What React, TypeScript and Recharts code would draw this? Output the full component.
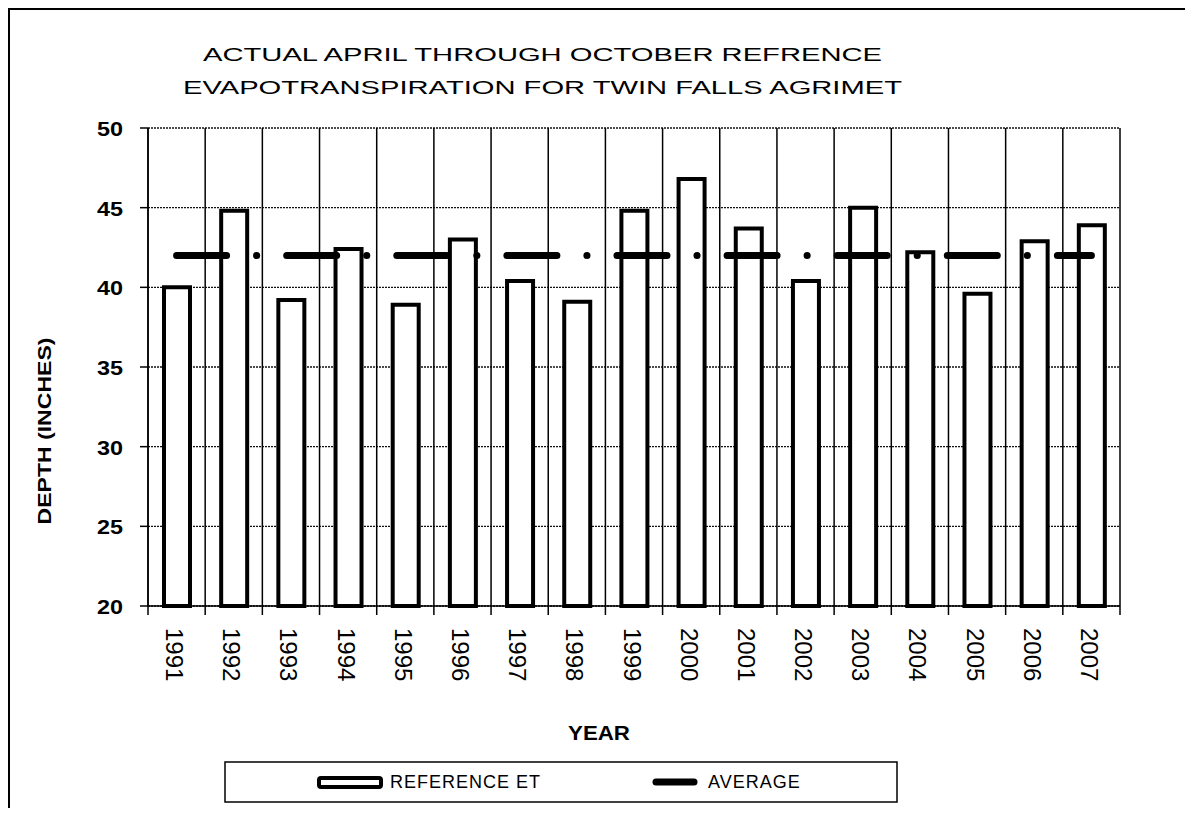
import React from 'react';
import { ComposedChart, Bar, Line, XAxis, YAxis, CartesianGrid } from 'recharts';

const years = ['1991', '1992', '1993', '1994', '1995', '1996', '1997', '1998', '1999', '2000', '2001', '2002', '2003', '2004', '2005', '2006', '2007'];
const referenceEt = [40.0, 44.8, 39.2, 42.4, 38.9, 43.0, 40.4, 39.1, 44.8, 46.8, 43.7, 40.4, 45.0, 42.2, 39.6, 42.9, 43.9];
const average = [42, 42, 42, 42, 42, 42, 42, 42, 42, 42, 42, 42, 42, 42, 42, 42, 42];
const yTicks = [20, 25, 30, 35, 40, 45, 50];
const titleLines = ['ACTUAL APRIL THROUGH OCTOBER REFRENCE', 'EVAPOTRANSPIRATION FOR TWIN FALLS AGRIMET'];
const seriesNames = ['REFERENCE ET', 'AVERAGE'];
const xLabel = 'YEAR';
const yLabel = 'DEPTH (INCHES)';

const data = years.map((y, i) => ({ year: y, et: referenceEt[i], avg: average[i] }));

const FONT = '"Liberation Sans", Arial, sans-serif';
const W = 1177;
const H = 800;

const XTick = (props: any) => {
  const { x, y, payload, index, visibleTicksCount, width } = props;
  const half = payload && typeof payload.offset === 'number' && payload.offset > 0 ? payload.offset : width / (2 * visibleTicksCount);
  const left = x - half;
  return (
    <g>
      <line x1={left} y1={y - 9} x2={left} y2={y} stroke="#000" strokeWidth={1.5} />
      {index === visibleTicksCount - 1 && (
        <line x1={x + half} y1={y - 9} x2={x + half} y2={y} stroke="#000" strokeWidth={1.5} />
      )}
      <text
        transform={`translate(${x - 2},${y + 13}) rotate(90)`}
        textAnchor="start"
        dominantBaseline="central"
        fontSize={24}
        fontFamily={FONT}
        fill="#000"
      >
        {payload.value}
      </text>
    </g>
  );
};

const YTick = (props: any) => {
  const { x, y, payload } = props;
  return (
    <text
      x={x}
      y={y}
      dy={1}
      textAnchor="end"
      dominantBaseline="central"
      fontSize={20}
      fontWeight="bold"
      fontFamily={FONT}
      fill="#000"
      textLength={26}
      lengthAdjust="spacingAndGlyphs"
    >
      {payload.value}
    </text>
  );
};

const verticalGen = (args: any) => {
  const { offset } = args;
  const n = years.length;
  return Array.from({ length: n + 1 }, (_, i) => offset.left + (i * offset.width) / n);
};

export default function App() {
  return (
    <div style={{ position: 'relative', width: W, height: H, background: '#fff' }}>
      <ComposedChart
        width={W}
        height={H}
        data={data}
        margin={{ top: 120, right: 65, bottom: 0, left: 0 }}
        style={{ position: 'absolute', left: 0, top: 0 }}
      >
        <CartesianGrid horizontal={true} vertical={false} stroke="#111" strokeWidth={1.3} strokeDasharray="2 1" />
        <CartesianGrid horizontal={false} vertical={true} stroke="#000" strokeWidth={1.5} verticalCoordinatesGenerator={verticalGen} />
        <XAxis
          dataKey="year"
          type="category"
          height={202}
          interval={0}
          tickSize={9}
          tickMargin={0}
          tickLine={{ stroke: 'none' }}
          axisLine={{ stroke: '#000', strokeWidth: 1.5 }}
          tick={<XTick />}
        />
        <YAxis
          type="number"
          domain={[20, 50]}
          ticks={yTicks}
          interval={0}
          width={140}
          tickSize={8}
          tickMargin={17}
          tickLine={{ stroke: '#000', strokeWidth: 1.5 }}
          axisLine={{ stroke: '#000', strokeWidth: 1.5 }}
          tick={<YTick />}
        />
        <Bar
          dataKey="et"
          name={seriesNames[0]}
          fill="#fff"
          stroke="#000"
          strokeWidth={4}
          barSize={26}
          isAnimationActive={false}
        />
        <Line
          dataKey="avg"
          name={seriesNames[1]}
          type="linear"
          stroke="#000"
          strokeWidth={7}
          strokeDasharray="50 30 0.1 30"
          strokeLinecap="round"
          dot={false}
          activeDot={false}
          isAnimationActive={false}
        />
      </ComposedChart>
      <svg
        width={W}
        height={H}
        style={{ position: 'absolute', left: 0, top: 0, pointerEvents: 'none' }}
        fontFamily={FONT}
      >
        <line x1={1} y1={0} x2={1} y2={H} stroke="#000" strokeWidth={2} />
        <line x1={0} y1={1} x2={W} y2={1} stroke="#000" strokeWidth={2} />
        <text x={534.5} y={53} textAnchor="middle" fontSize={19} fill="#000" textLength={679} lengthAdjust="spacingAndGlyphs">
          {titleLines[0]}
        </text>
        <text x={534.5} y={86} textAnchor="middle" fontSize={19} fill="#000" textLength={719} lengthAdjust="spacingAndGlyphs">
          {titleLines[1]}
        </text>
        <text
          transform="translate(37,423) rotate(-90)"
          textAnchor="middle"
          dominantBaseline="central"
          fontSize={18}
          fontWeight="bold"
          fill="#000"
          textLength={187}
          lengthAdjust="spacingAndGlyphs"
        >
          {yLabel}
        </text>
        <text x={591} y={732} textAnchor="middle" fontSize={20} fontWeight="bold" fill="#000" textLength={62} lengthAdjust="spacingAndGlyphs">
          {xLabel}
        </text>
        <rect x={217} y={754} width={672} height={40} fill="none" stroke="#000" strokeWidth={1.5} />
        <rect x={311} y={770} width={62} height={9} rx={2} fill="#fff" stroke="#000" strokeWidth={4} />
        <text x={382} y={780} fontSize={18} fill="#000" letterSpacing={1}>
          {seriesNames[0]}
        </text>
        <line x1={648} y1={774} x2={686} y2={774} stroke="#000" strokeWidth={7} strokeLinecap="round" />
        <text x={700} y={780} fontSize={18} fill="#000" letterSpacing={1}>
          {seriesNames[1]}
        </text>
      </svg>
    </div>
  );
}
